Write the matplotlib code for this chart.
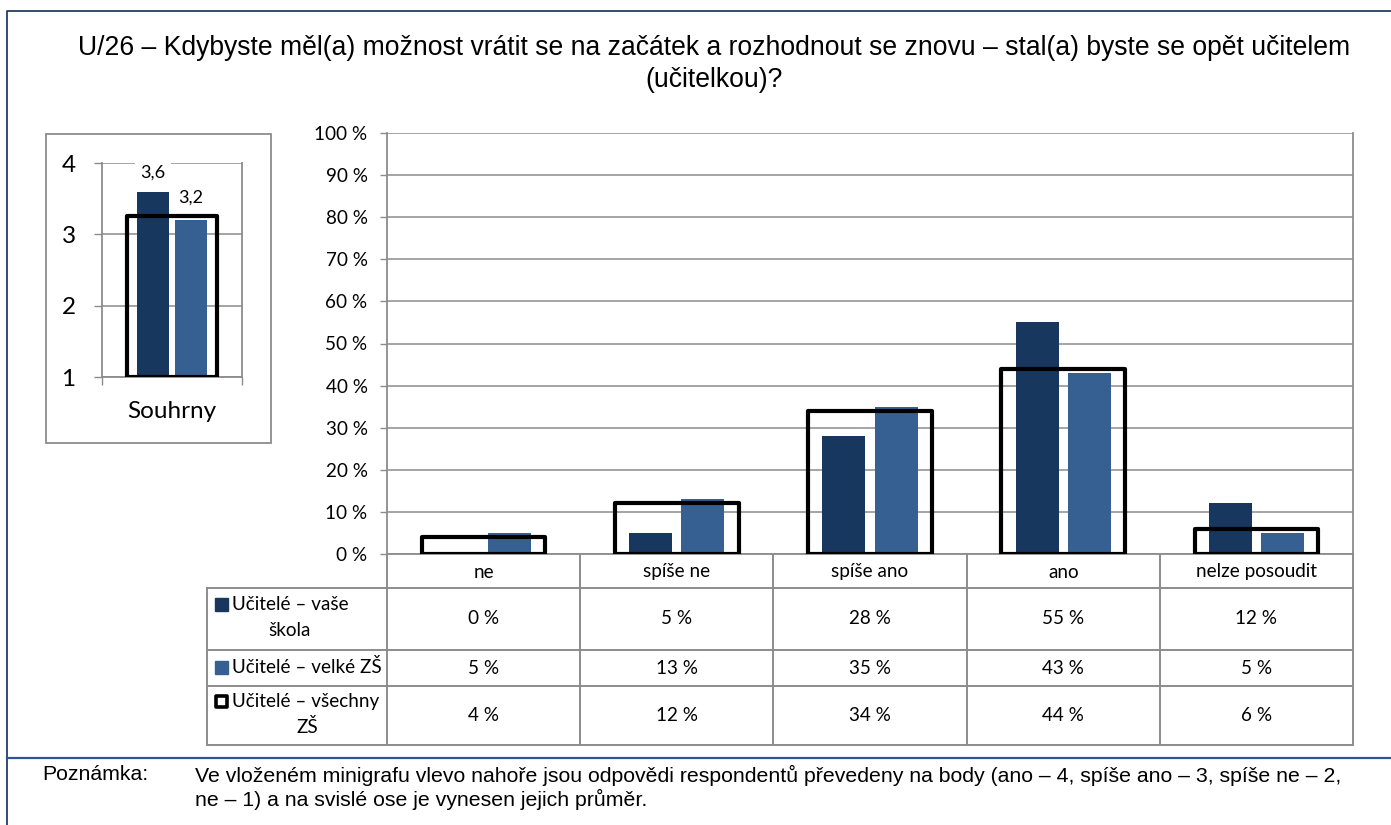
import matplotlib.pyplot as plt
import matplotlib.transforms as mtransforms
from matplotlib.patches import Rectangle

# ==== data ====
categories = ["ne", "spíše ne", "spíše ano", "ano", "nelze posoudit"]
vase_skola = [0, 5, 28, 55, 12]
velke_zs = [5, 13, 35, 43, 5]
vsechny_zs = [4, 12, 34, 44, 6]
souhrn = [3.6, 3.2, 3.25]          # průměr bodů (vaše škola, velké ZŠ, všechny ZŠ)
souhrn_labels = ["3,6", "3,2"]
yticks_main = [0, 10, 20, 30, 40, 50, 60, 70, 80, 90, 100]
yticks_mini = [1, 2, 3, 4]

title_lines = ["U/26 – Kdybyste měl(a) možnost vrátit se na začátek a rozhodnout se znovu – "
               "stal(a) byste se opět učitelem", "(učitelkou)?"]
note_label = "Poznámka:"
note_lines = ["Ve vloženém minigrafu vlevo nahoře jsou odpovědi respondentů převedeny na body "
              "(ano – 4, spíše ano – 3, spíše ne – 2,",
              "ne – 1) a na svislé ose je vynesen jejich průměr."]

# ==== styl ====
W, H = 1391, 825
DARK = "#17375E"
LIGHT = "#376092"
GRID = "#8C8C8C"
FRAME = "#243F60"
LAB_FONT = ["Lato", "DejaVu Sans"]
TXT_FONT = ["Liberation Sans", "DejaVu Sans"]
FS = 13.6
BW, OFF, BOXW = 0.223, 0.135, 0.64


def rect(l, t, r, b):
    return [l / W, 1 - b / H, (r - l) / W, (b - t) / H]


fig = plt.figure(figsize=(W / 100, H / 100), dpi=100)

# overlay v pixelech
ov = fig.add_axes([0, 0, 1, 1])
ov.set_xlim(0, W)
ov.set_ylim(H, 0)
ov.axis("off")

# ==== rámeček, nadpis, poznámka ====
ov.plot([7, 7, W], [H, 11, 11], color=FRAME, lw=1.3)
ov.plot([7, W], [758, 758], color="#2F5496", lw=1.6)

for i, line in enumerate(title_lines):
    ov.text(714, 48 + i * 32, line, ha="center", va="center", fontsize=19.1,
            family=TXT_FONT)

ov.text(42, 775, note_label, ha="left", va="center", fontsize=15.3, family=TXT_FONT)
for i, line in enumerate(note_lines):
    ov.text(195, 775 + i * 24, line, ha="left", va="center", fontsize=15.3,
            family=TXT_FONT)

# ==== hlavní graf ====
ax = fig.add_axes(rect(387, 133, 1353, 554))
x = list(range(len(categories)))
ax.bar([i - OFF for i in x], vase_skola, width=BW, color=DARK, zorder=3)
ax.bar([i + OFF for i in x], velke_zs, width=BW, color=LIGHT, zorder=3)
ax.bar(x, vsechny_zs, width=BOXW, fill=False, edgecolor="black", linewidth=3.0,
       joinstyle="round", zorder=4)
ax.set_xlim(-0.5, len(categories) - 0.5)
ax.set_ylim(0, 100)
ax.set_yticks(yticks_main)
ax.set_yticklabels([f"{v} %" for v in yticks_main], family=LAB_FONT, fontsize=FS)
ax.set_xticks([])
ax.tick_params(axis="y", length=5, width=1, color=GRID, pad=9)
ax.yaxis.grid(True, color=GRID, lw=1.1, zorder=0)
ax.set_axisbelow(True)
for s in ["left", "right", "bottom"]:
    ax.spines[s].set_color(GRID)
    ax.spines[s].set_linewidth(1.3)
ax.spines["top"].set_visible(False)

# ==== tabulka pod grafem ====
bt = mtransforms.blended_transform_factory(ax.transData, ov.transData)
row_edges = [554, 588, 650, 686, 745]
tab_left = 207
for yy in row_edges[1:]:
    ov.plot([tab_left, 1353], [yy, yy], color=GRID, lw=1.4, zorder=1)
ov.plot([tab_left, tab_left], [row_edges[1], row_edges[-1]], color=GRID, lw=1.4)
for b in range(len(categories) + 1):
    ov.plot([b - 0.5, b - 0.5], [row_edges[0], row_edges[-1]], color=GRID, lw=1.4,
            transform=bt, clip_on=False)

for i, cat in enumerate(categories):
    ov.text(i, 572, cat, transform=bt, ha="center", va="center", fontsize=FS,
            family=LAB_FONT)
for r, vals in enumerate([vase_skola, velke_zs, vsechny_zs]):
    yc = (row_edges[r + 1] + row_edges[r + 2]) / 2
    for i, v in enumerate(vals):
        ov.text(i, yc, f"{v} %", transform=bt, ha="center", va="center",
                fontsize=FS, family=LAB_FONT)

# legenda v hlavičce řádků
ov.add_patch(Rectangle((215, 598), 13, 13, color=DARK))
ov.text(232, 605, "Učitelé – vaše", ha="left", va="center", fontsize=FS, family=LAB_FONT)
ov.text(290, 630, "škola", ha="center", va="center", fontsize=FS, family=LAB_FONT)
ov.add_patch(Rectangle((215, 661), 13, 13, color=LIGHT))
ov.text(232, 667, "Učitelé – velké ZŠ", ha="left", va="center", fontsize=FS,
        family=LAB_FONT)
ov.add_patch(Rectangle((216, 696), 11, 11, fill=False, edgecolor="black", lw=2.6,
                       joinstyle="round"))
ov.text(232, 702, "Učitelé – všechny", ha="left", va="center", fontsize=FS,
        family=LAB_FONT)
ov.text(307, 727, "ZŠ", ha="center", va="center", fontsize=FS, family=LAB_FONT)

# ==== minigraf ====
ov.add_patch(Rectangle((46, 134), 225, 309, fill=False, edgecolor=GRID, lw=1.3))
mx = fig.add_axes(rect(102, 163, 242, 377))
mx.bar([-OFF], [souhrn[0] - 1], bottom=1, width=BW, color=DARK, zorder=3)
mx.bar([OFF], [souhrn[1] - 1], bottom=1, width=BW, color=LIGHT, zorder=3)
mx.bar([0], [souhrn[2] - 1], bottom=1, width=BOXW, fill=False, edgecolor="black",
       linewidth=3.0, joinstyle="round", zorder=4)
mx.set_xlim(-0.5, 0.5)
mx.set_ylim(1, 4)
mx.set_yticks(yticks_mini)
mx.set_yticklabels([str(v) for v in yticks_mini], fontsize=17.5, family=LAB_FONT)
mx.tick_params(axis="y", length=6, width=1, color=GRID, pad=13)
mx.set_xticks([-0.5, 0.5])
mx.set_xticklabels([])
mx.tick_params(axis="x", length=6, width=1, color=GRID, direction="out")
mx.yaxis.grid(True, color=GRID, lw=1.1, zorder=0)
mx.set_axisbelow(True)
for s in ["left", "right", "bottom"]:
    mx.spines[s].set_color(GRID)
    mx.spines[s].set_linewidth(1.3)
mx.spines["top"].set_visible(False)
ov.text(172, 411, "Souhrny", ha="center", va="center", fontsize=17.5, family=LAB_FONT)
mx.text(-OFF, souhrn[0] + 0.26, souhrn_labels[0], ha="center", va="center", fontsize=13,
        family=LAB_FONT, zorder=5, bbox=dict(fc="white", ec="none", pad=4))
mx.text(OFF, souhrn[1] + 0.32, souhrn_labels[1], ha="center", va="center", fontsize=13,
        family=LAB_FONT, zorder=5, bbox=dict(fc="white", ec="none", pad=2))

fig.savefig("out.png", dpi=100)
